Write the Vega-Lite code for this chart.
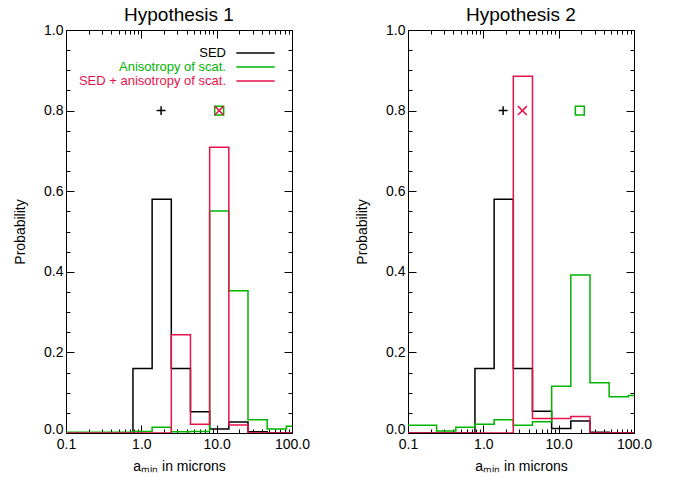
{
  "$schema": "https://vega.github.io/schema/vega-lite/v6.json",
  "padding": {"left": 13, "top": 5, "right": 5, "bottom": 5},
  "spacing": 44,
  "config": {
    "font": "Liberation Sans",
    "view": {"stroke": "black", "strokeWidth": 1},
    "title": {"fontSize": 19, "fontWeight": "normal", "color": "black", "offset": -2},
    "axis": {"grid": false, "domain": false, "tickColor": "black", "tickWidth": 1, "labelColor": "black", "titleColor": "black", "labelFontSize": 14, "titleFontSize": 14, "titleFontWeight": "normal", "labelOverlap": false, "labelFlush": false}
  },
  "datasets": {
    "steps": [
      {"panel":1,"series":"SED","x":0.0743,"p":0},{"panel":1,"series":"SED","x":0.1335,"p":0},{"panel":1,"series":"SED","x":0.2399,"p":0},{"panel":1,"series":"SED","x":0.431,"p":0},{"panel":1,"series":"SED","x":0.774,"p":0.16},{"panel":1,"series":"SED","x":1.391,"p":0.58},{"panel":1,"series":"SED","x":2.5,"p":0.16},{"panel":1,"series":"SED","x":4.49,"p":0.053},{"panel":1,"series":"SED","x":8.07,"p":0.01},{"panel":1,"series":"SED","x":14.5,"p":0.027},{"panel":1,"series":"SED","x":26.06,"p":0.003},{"panel":1,"series":"SED","x":46.8,"p":0},{"panel":1,"series":"SED","x":84.1,"p":0},{"panel":1,"series":"SED","x":151,"p":0},
      {"panel":1,"series":"Anisotropy of scat.","x":0.0743,"p":0.002},{"panel":1,"series":"Anisotropy of scat.","x":0.1335,"p":0.002},{"panel":1,"series":"Anisotropy of scat.","x":0.2399,"p":0.002},{"panel":1,"series":"Anisotropy of scat.","x":0.431,"p":0.002},{"panel":1,"series":"Anisotropy of scat.","x":0.774,"p":0.004},{"panel":1,"series":"Anisotropy of scat.","x":1.391,"p":0.014},{"panel":1,"series":"Anisotropy of scat.","x":2.5,"p":0.003},{"panel":1,"series":"Anisotropy of scat.","x":4.49,"p":0.004},{"panel":1,"series":"Anisotropy of scat.","x":8.07,"p":0.551},{"panel":1,"series":"Anisotropy of scat.","x":14.5,"p":0.353},{"panel":1,"series":"Anisotropy of scat.","x":26.06,"p":0.033},{"panel":1,"series":"Anisotropy of scat.","x":46.8,"p":0.01},{"panel":1,"series":"Anisotropy of scat.","x":84.1,"p":0.017},{"panel":1,"series":"Anisotropy of scat.","x":151,"p":0.017},
      {"panel":1,"series":"SED + anisotropy of scat.","x":0.0743,"p":0},{"panel":1,"series":"SED + anisotropy of scat.","x":0.1335,"p":0},{"panel":1,"series":"SED + anisotropy of scat.","x":0.2399,"p":0},{"panel":1,"series":"SED + anisotropy of scat.","x":0.431,"p":0},{"panel":1,"series":"SED + anisotropy of scat.","x":0.774,"p":0},{"panel":1,"series":"SED + anisotropy of scat.","x":1.391,"p":0},{"panel":1,"series":"SED + anisotropy of scat.","x":2.5,"p":0.244},{"panel":1,"series":"SED + anisotropy of scat.","x":4.49,"p":0.022},{"panel":1,"series":"SED + anisotropy of scat.","x":8.07,"p":0.709},{"panel":1,"series":"SED + anisotropy of scat.","x":14.5,"p":0.02},{"panel":1,"series":"SED + anisotropy of scat.","x":26.06,"p":0},{"panel":1,"series":"SED + anisotropy of scat.","x":46.8,"p":0},{"panel":1,"series":"SED + anisotropy of scat.","x":84.1,"p":0},{"panel":1,"series":"SED + anisotropy of scat.","x":151,"p":0},
      {"panel":2,"series":"SED","x":0.0743,"p":0},{"panel":2,"series":"SED","x":0.1335,"p":0},{"panel":2,"series":"SED","x":0.2399,"p":0},{"panel":2,"series":"SED","x":0.431,"p":0},{"panel":2,"series":"SED","x":0.774,"p":0.16},{"panel":2,"series":"SED","x":1.391,"p":0.58},{"panel":2,"series":"SED","x":2.5,"p":0.16},{"panel":2,"series":"SED","x":4.49,"p":0.054},{"panel":2,"series":"SED","x":8.07,"p":0.011},{"panel":2,"series":"SED","x":14.5,"p":0.03},{"panel":2,"series":"SED","x":26.06,"p":0.002},{"panel":2,"series":"SED","x":46.8,"p":0},{"panel":2,"series":"SED","x":84.1,"p":0},{"panel":2,"series":"SED","x":151,"p":0},
      {"panel":2,"series":"Anisotropy of scat.","x":0.0743,"p":0.019},{"panel":2,"series":"Anisotropy of scat.","x":0.1335,"p":0.019},{"panel":2,"series":"Anisotropy of scat.","x":0.2399,"p":0.005},{"panel":2,"series":"Anisotropy of scat.","x":0.431,"p":0.014},{"panel":2,"series":"Anisotropy of scat.","x":0.774,"p":0.022},{"panel":2,"series":"Anisotropy of scat.","x":1.391,"p":0.033},{"panel":2,"series":"Anisotropy of scat.","x":2.5,"p":0.019},{"panel":2,"series":"Anisotropy of scat.","x":4.49,"p":0.028},{"panel":2,"series":"Anisotropy of scat.","x":8.07,"p":0.116},{"panel":2,"series":"Anisotropy of scat.","x":14.5,"p":0.392},{"panel":2,"series":"Anisotropy of scat.","x":26.06,"p":0.125},{"panel":2,"series":"Anisotropy of scat.","x":46.8,"p":0.09},{"panel":2,"series":"Anisotropy of scat.","x":84.1,"p":0.093},{"panel":2,"series":"Anisotropy of scat.","x":151,"p":0.093},
      {"panel":2,"series":"SED + anisotropy of scat.","x":0.0743,"p":0},{"panel":2,"series":"SED + anisotropy of scat.","x":0.1335,"p":0},{"panel":2,"series":"SED + anisotropy of scat.","x":0.2399,"p":0},{"panel":2,"series":"SED + anisotropy of scat.","x":0.431,"p":0},{"panel":2,"series":"SED + anisotropy of scat.","x":0.774,"p":0},{"panel":2,"series":"SED + anisotropy of scat.","x":1.391,"p":0},{"panel":2,"series":"SED + anisotropy of scat.","x":2.5,"p":0.885},{"panel":2,"series":"SED + anisotropy of scat.","x":4.49,"p":0.036},{"panel":2,"series":"SED + anisotropy of scat.","x":8.07,"p":0.036},{"panel":2,"series":"SED + anisotropy of scat.","x":14.5,"p":0.041},{"panel":2,"series":"SED + anisotropy of scat.","x":26.06,"p":0},{"panel":2,"series":"SED + anisotropy of scat.","x":46.8,"p":0},{"panel":2,"series":"SED + anisotropy of scat.","x":84.1,"p":0},{"panel":2,"series":"SED + anisotropy of scat.","x":151,"p":0}
    ],
    "markers": [
      {"panel":1,"series":"SED","x":1.83,"p":0.8},
      {"panel":1,"series":"Anisotropy of scat.","x":10.8,"p":0.8},
      {"panel":1,"series":"SED + anisotropy of scat.","x":10.8,"p":0.8},
      {"panel":2,"series":"SED","x":1.83,"p":0.8},
      {"panel":2,"series":"Anisotropy of scat.","x":19.1,"p":0.8},
      {"panel":2,"series":"SED + anisotropy of scat.","x":3.3,"p":0.8}
    ]
  },
  "resolve": {"scale": {"color": "independent"}, "legend": {"color": "independent"}},
  "hconcat": [
    {
      "width": 226, "height": 403,
      "title": "Hypothesis 1",
      "resolve": {"axis": {"x": "independent", "y": "independent"}},
      "layer": [
        {
          "data": {"name": "steps"},
          "transform": [{"filter": "datum.panel == 1"}],
          "mark": {"type": "line", "interpolate": "step-after", "clip": true, "strokeWidth": 1.5},
          "encoding": {
            "x": {"field": "x", "type": "quantitative", "scale": {"type": "log", "domain": [0.1, 100]},
              "axis": {"orient": "bottom", "offset": -8, "tickSize": 8, "labelPadding": 4, "title": "aₘᵢₙ in microns", "titlePadding": 8, "values": [0.1, 1, 10, 100], "format": ".1f"}},
            "y": {"field": "p", "type": "quantitative", "scale": {"domain": [0, 1]},
              "axis": {"orient": "left", "offset": -8, "tickSize": 8, "labelPadding": 3, "title": "Probability", "titlePadding": 16, "values": [0, 0.2, 0.4, 0.6, 0.8, 1], "format": ".1f",
                "labelOffset": {"condition": {"test": "datum.value == 0", "value": -4}, "value": 0}}},
            "color": {"field": "series", "type": "nominal", "sort": null,
              "scale": {"domain": ["SED", "Anisotropy of scat.", "SED + anisotropy of scat."], "range": ["#000000", "#00b400", "#e8124a"]},
              "legend": {"orient": "none", "legendX": 183, "legendY": 16.5, "title": null, "symbolType": "M-3.5,0L3.5,0", "symbolSize": 120, "symbolStrokeWidth": 1.5, "symbolFillColor": "transparent", "labelFontSize": 13, "labelAlign": "right", "rowPadding": 0,
                "encode": {
                  "labels": {"update": {"x": {"value": -23}, "fill": {"signal": "datum.value === 'SED' ? '#000000' : datum.value === 'Anisotropy of scat.' ? '#00b400' : '#e8124a'"}}}}}}
          }
        },
        {
          "data": {"name": "markers"},
          "transform": [{"filter": "datum.panel == 1 && datum.series == 'SED'"}],
          "mark": {"type": "point", "filled": false, "strokeWidth": 1.5, "size": 80, "opacity": 1, "color": "#000000", "shape": "M-1,0L1,0M0,-1L0,1"},
          "encoding": {
            "x": {"field": "x", "type": "quantitative", "scale": {"type": "log", "domain": [0.1, 100]},
              "axis": {"orient": "top", "offset": -8, "tickSize": 8, "title": null, "labels": false, "values": [0.1, 1, 10, 100]}},
            "y": {"field": "p", "type": "quantitative", "scale": {"domain": [0, 1]},
              "axis": {"orient": "right", "offset": -8, "tickSize": 8, "title": null, "labels": false, "values": [0, 0.2, 0.4, 0.6, 0.8, 1]}}
          }
        },
        {
          "data": {"name": "markers"},
          "transform": [{"filter": "datum.panel == 1 && datum.series == 'Anisotropy of scat.'"}],
          "mark": {"type": "point", "filled": false, "strokeWidth": 1.5, "size": 80, "opacity": 1, "color": "#00b400", "shape": "square"},
          "encoding": {
            "x": {"field": "x", "type": "quantitative", "scale": {"type": "log", "domain": [0.1, 100]},
              "axis": {"orient": "bottom", "offset": -4, "tickSize": 4, "title": null, "labels": false, "values": [0.2,0.3,0.4,0.5,0.6,0.7,0.8,0.9,2,3,4,5,6,7,8,9,20,30,40,50,60,70,80,90]}},
            "y": {"field": "p", "type": "quantitative", "scale": {"domain": [0, 1]},
              "axis": {"orient": "left", "offset": -4, "tickSize": 4, "title": null, "labels": false, "values": [0.05,0.1,0.15,0.25,0.3,0.35,0.45,0.5,0.55,0.65,0.7,0.75,0.85,0.9,0.95]}}
          }
        },
        {
          "data": {"name": "markers"},
          "transform": [{"filter": "datum.panel == 1 && datum.series == 'SED + anisotropy of scat.'"}],
          "mark": {"type": "point", "filled": false, "strokeWidth": 1.5, "size": 80, "opacity": 1, "color": "#e8124a", "shape": "M-1,-1L1,1M-1,1L1,-1"},
          "encoding": {
            "x": {"field": "x", "type": "quantitative", "scale": {"type": "log", "domain": [0.1, 100]},
              "axis": {"orient": "top", "offset": -4, "tickSize": 4, "title": null, "labels": false, "values": [0.2,0.3,0.4,0.5,0.6,0.7,0.8,0.9,2,3,4,5,6,7,8,9,20,30,40,50,60,70,80,90]}},
            "y": {"field": "p", "type": "quantitative", "scale": {"domain": [0, 1]},
              "axis": {"orient": "right", "offset": -4, "tickSize": 4, "title": null, "labels": false, "values": [0.05,0.1,0.15,0.25,0.3,0.35,0.45,0.5,0.55,0.65,0.7,0.75,0.85,0.9,0.95]}}
          }
        }
      ]
    },
    {
      "width": 226, "height": 403,
      "title": "Hypothesis 2",
      "resolve": {"axis": {"x": "independent", "y": "independent"}},
      "layer": [
        {
          "data": {"name": "steps"},
          "transform": [{"filter": "datum.panel == 2"}],
          "mark": {"type": "line", "interpolate": "step-after", "clip": true, "strokeWidth": 1.5},
          "encoding": {
            "x": {"field": "x", "type": "quantitative", "scale": {"type": "log", "domain": [0.1, 100]},
              "axis": {"orient": "bottom", "offset": -8, "tickSize": 8, "labelPadding": 4, "title": "aₘᵢₙ in microns", "titlePadding": 8, "values": [0.1, 1, 10, 100], "format": ".1f"}},
            "y": {"field": "p", "type": "quantitative", "scale": {"domain": [0, 1]},
              "axis": {"orient": "left", "offset": -8, "tickSize": 8, "labelPadding": 3, "title": "Probability", "titlePadding": 16, "values": [0, 0.2, 0.4, 0.6, 0.8, 1], "format": ".1f",
                "labelOffset": {"condition": {"test": "datum.value == 0", "value": -4}, "value": 0}}},
            "color": {"field": "series", "type": "nominal", "sort": null,
              "scale": {"domain": ["SED", "Anisotropy of scat.", "SED + anisotropy of scat."], "range": ["#000000", "#00b400", "#e8124a"]}, "legend": null}
          }
        },
        {
          "data": {"name": "markers"},
          "transform": [{"filter": "datum.panel == 2 && datum.series == 'SED'"}],
          "mark": {"type": "point", "filled": false, "strokeWidth": 1.5, "size": 80, "opacity": 1, "color": "#000000", "shape": "M-1,0L1,0M0,-1L0,1"},
          "encoding": {
            "x": {"field": "x", "type": "quantitative", "scale": {"type": "log", "domain": [0.1, 100]},
              "axis": {"orient": "top", "offset": -8, "tickSize": 8, "title": null, "labels": false, "values": [0.1, 1, 10, 100]}},
            "y": {"field": "p", "type": "quantitative", "scale": {"domain": [0, 1]},
              "axis": {"orient": "right", "offset": -8, "tickSize": 8, "title": null, "labels": false, "values": [0, 0.2, 0.4, 0.6, 0.8, 1]}}
          }
        },
        {
          "data": {"name": "markers"},
          "transform": [{"filter": "datum.panel == 2 && datum.series == 'Anisotropy of scat.'"}],
          "mark": {"type": "point", "filled": false, "strokeWidth": 1.5, "size": 80, "opacity": 1, "color": "#00b400", "shape": "square"},
          "encoding": {
            "x": {"field": "x", "type": "quantitative", "scale": {"type": "log", "domain": [0.1, 100]},
              "axis": {"orient": "bottom", "offset": -4, "tickSize": 4, "title": null, "labels": false, "values": [0.2,0.3,0.4,0.5,0.6,0.7,0.8,0.9,2,3,4,5,6,7,8,9,20,30,40,50,60,70,80,90]}},
            "y": {"field": "p", "type": "quantitative", "scale": {"domain": [0, 1]},
              "axis": {"orient": "left", "offset": -4, "tickSize": 4, "title": null, "labels": false, "values": [0.05,0.1,0.15,0.25,0.3,0.35,0.45,0.5,0.55,0.65,0.7,0.75,0.85,0.9,0.95]}}
          }
        },
        {
          "data": {"name": "markers"},
          "transform": [{"filter": "datum.panel == 2 && datum.series == 'SED + anisotropy of scat.'"}],
          "mark": {"type": "point", "filled": false, "strokeWidth": 1.5, "size": 80, "opacity": 1, "color": "#e8124a", "shape": "M-1,-1L1,1M-1,1L1,-1"},
          "encoding": {
            "x": {"field": "x", "type": "quantitative", "scale": {"type": "log", "domain": [0.1, 100]},
              "axis": {"orient": "top", "offset": -4, "tickSize": 4, "title": null, "labels": false, "values": [0.2,0.3,0.4,0.5,0.6,0.7,0.8,0.9,2,3,4,5,6,7,8,9,20,30,40,50,60,70,80,90]}},
            "y": {"field": "p", "type": "quantitative", "scale": {"domain": [0, 1]},
              "axis": {"orient": "right", "offset": -4, "tickSize": 4, "title": null, "labels": false, "values": [0.05,0.1,0.15,0.25,0.3,0.35,0.45,0.5,0.55,0.65,0.7,0.75,0.85,0.9,0.95]}}
          }
        }
      ]
    }
  ]
}
